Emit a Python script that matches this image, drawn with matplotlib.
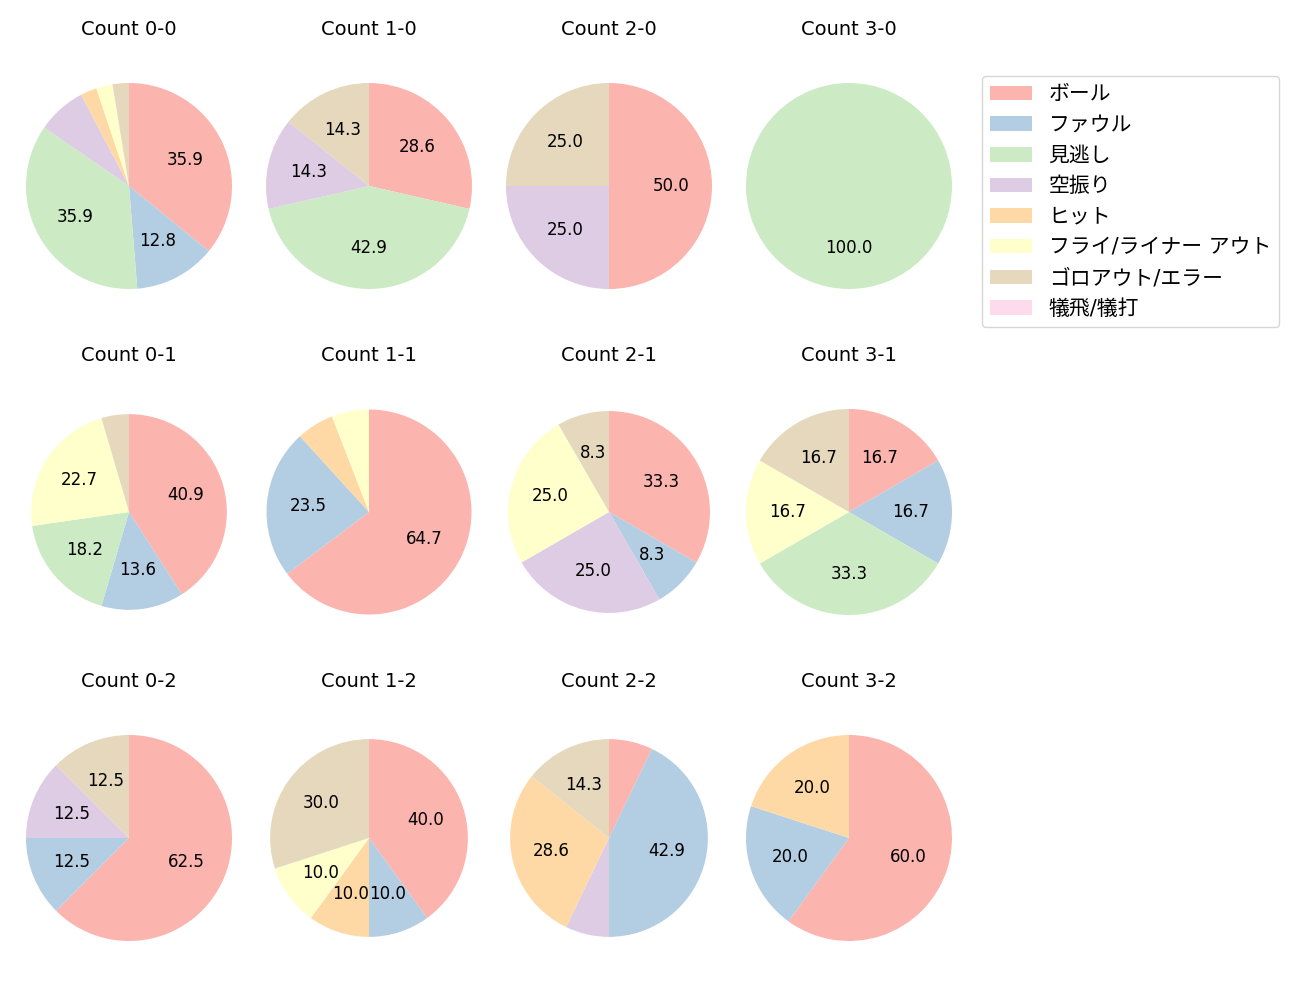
import matplotlib
matplotlib.use("Agg")
import matplotlib.pyplot as plt
from matplotlib.patches import Patch

plt.rcParams["font.family"] = ["DejaVu Sans", "Noto Sans CJK JP"]

RESULTS = ["ボール", "ファウル", "見逃し", "空振り", "ヒット",
           "フライ/ライナー アウト", "ゴロアウト/エラー", "犠飛/犠打"]
COLORS = ["#fbb4ae", "#b3cde3", "#ccebc5", "#decbe4",
          "#fed9a6", "#ffffcc", "#e5d8bd", "#fddaec"]

# pitch outcome counts per ball-strike count, in RESULTS order
count_0_0 = [14, 5, 14, 3, 1, 1, 1, 0]
count_1_0 = [2, 0, 3, 1, 0, 0, 1, 0]
count_2_0 = [2, 0, 0, 1, 0, 0, 1, 0]
count_3_0 = [0, 0, 1, 0, 0, 0, 0, 0]
count_0_1 = [9, 3, 4, 0, 0, 5, 1, 0]
count_1_1 = [11, 4, 0, 0, 1, 1, 0, 0]
count_2_1 = [4, 1, 0, 3, 0, 3, 1, 0]
count_3_1 = [1, 1, 2, 0, 0, 1, 1, 0]
count_0_2 = [5, 1, 0, 1, 0, 0, 1, 0]
count_1_2 = [4, 1, 0, 0, 1, 1, 3, 0]
count_2_2 = [1, 6, 0, 1, 4, 0, 2, 0]
count_3_2 = [3, 1, 0, 0, 1, 0, 0, 0]

PANELS = [
    ("Count 0-0", count_0_0), ("Count 1-0", count_1_0),
    ("Count 2-0", count_2_0), ("Count 3-0", count_3_0),
    ("Count 0-1", count_0_1), ("Count 1-1", count_1_1),
    ("Count 2-1", count_2_1), ("Count 3-1", count_3_1),
    ("Count 0-2", count_0_2), ("Count 1-2", count_1_2),
    ("Count 2-2", count_2_2), ("Count 3-2", count_3_2),
]

W, H = 1300, 1000
R = 103            # px per data unit
HW, HH = 120, 140  # axes half width / half height in px
# the pies in the reference are not all the same size
PIE_SCALE = [1.0, 1.0, 1.0, 1.0,
             0.95, 0.995, 0.98, 1.0,
             1.0, 0.96, 0.96, 1.0]


def pct_label(p):
    return f"{p:.1f}" if p > 8 else ""


fig = plt.figure(figsize=(W / 100, H / 100), dpi=100)

for i, (title, vals) in enumerate(PANELS):
    row, col = divmod(i, 4)
    cx = 129 + 240 * col
    cy = 186 + 326 * row
    ax = fig.add_axes([(cx - HW) / W, 1 - (cy + HH) / H, 2 * HW / W, 2 * HH / H])
    ax.pie(vals, colors=COLORS, startangle=90, counterclock=False,
           radius=PIE_SCALE[i], autopct=pct_label, pctdistance=0.6,
           textprops={"fontsize": 12})
    ax.set_xlim(-HW / R, HW / R)
    ax.set_ylim(-HH / R, HH / R)
    ax.set_title(title, fontsize=14, pad=8)

handles = [Patch(facecolor=c, label=l) for c, l in zip(COLORS, RESULTS)]
fig.legend(handles=handles, loc="upper left",
           bbox_to_anchor=(982 / W, 1 - 76 / H), borderaxespad=0,
           fontsize=15, handlelength=2.0, labelspacing=0.51)

fig.savefig("out.png", dpi=100)
